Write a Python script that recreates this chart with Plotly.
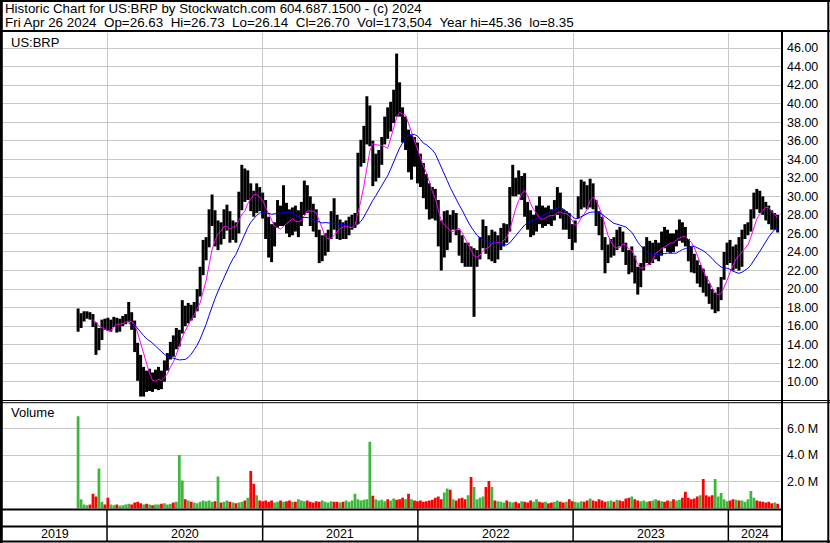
import pandas as pd
import plotly.graph_objects as go

# ---------------- data (weekly) ----------------
dates = pd.date_range("2019-10-25", "2024-04-26", freq="W-FRI")

high = [17.9,17.4,17.6,17.6,17.5,17.3,16.4,15.8,16.7,16.8,
        16.9,16.7,17.0,16.9,16.8,17.1,17.3,18.6,17.5,16.6,
        14.2,12.9,11.6,11.2,11.4,11.0,11.3,11.6,11.2,12.3,
        13.1,14.3,15.0,15.8,15.6,18.8,18.2,18.5,18.3,18.6,
        20.0,22.4,25.3,25.6,28.6,30.2,28.5,27.4,27.2,28.6,
        29.1,28.4,27.4,27.2,30.5,33.4,33.0,32.8,31.4,30.6,
        31.4,31.0,30.4,29.6,27.8,27.0,27.2,29.6,29.0,31.2,
        29.3,28.6,28.8,29.0,28.5,29.4,31.7,31.2,30.0,29.2,
        28.6,26.4,25.8,26.0,26.4,28.4,29.8,28.0,27.5,27.2,27.4,
        27.8,28.0,28.2,34.7,36.1,37.6,40.8,39.8,36.0,34.6,
        35.0,36.4,38.6,39.6,40.2,41.5,45.4,42.3,39.6,38.6,
        37.2,36.6,36.4,35.8,34.6,33.6,32.4,31.4,31.0,30.8,
        29.6,27.4,28.4,28.5,28.0,28.5,28.2,26.4,25.8,25.0,
        25.0,24.6,24.4,24.2,25.6,27.5,26.8,25.8,26.4,26.2,
        25.8,26.6,27.1,27.0,31.0,33.4,32.0,32.8,32.2,32.5,
        29.4,28.5,28.0,29.0,30.0,29.0,28.8,29.0,
        28.6,29.6,31.0,30.4,28.6,28.4,28.2,27.0,27.4,30.0,31.8,31.6,31.2,
        31.9,31.4,29.6,28.4,27.8,25.6,24.8,25.4,25.6,26.4,
        26.7,26.2,25.0,24.2,24.6,23.6,22.4,22.8,24.6,25.6,
        25.2,25.0,25.3,25.0,26.2,26.7,26.4,26.0,26.0,26.4,
        27.5,27.2,26.7,25.4,24.6,23.8,23.1,22.6,22.2,21.4,
        20.6,20.0,19.6,20.2,21.3,24.0,25.0,25.3,24.6,24.8,
        25.6,26.4,27.0,27.2,28.6,30.4,30.8,30.6,30.0,29.4,
        29.0,28.5,28.2,28.0]

low = [15.4,15.8,16.5,16.8,16.7,15.9,12.9,13.4,14.5,15.6,
       15.5,15.4,15.9,15.3,15.4,16.0,16.2,16.4,15.6,13.2,
       10.1,8.4,8.4,8.9,9.0,8.9,9.2,9.1,9.2,10.0,
       11.2,12.4,12.7,13.5,13.8,15.2,16.0,16.3,16.6,16.9,
       17.6,19.2,21.5,23.1,24.5,26.8,24.6,24.2,24.8,25.4,
       26.3,25.0,25.3,25.0,26.0,28.5,29.4,29.6,28.4,27.8,
       28.2,28.4,27.6,25.4,23.4,22.9,24.6,26.6,26.8,26.8,
       26.0,25.6,25.8,26.2,25.6,26.8,28.0,28.2,26.8,26.2,
       25.6,22.8,23.0,23.6,24.0,25.4,26.4,25.4,25.3,25.4,25.4,
       25.8,26.4,26.6,27.0,33.2,33.6,35.6,35.4,31.1,31.6,
       32.0,33.4,35.6,36.2,37.0,37.9,38.6,38.6,35.8,35.0,
       32.6,31.8,33.2,31.4,31.0,29.8,28.6,27.5,27.6,27.4,
       24.6,22.0,23.4,24.2,25.0,26.4,25.8,23.6,22.8,22.4,
       22.4,22.4,17.0,22.4,23.2,24.4,23.8,23.2,23.0,22.8,
       23.2,24.2,24.6,25.0,26.2,30.0,30.0,30.2,29.6,27.8,
       26.4,25.6,25.8,26.2,27.0,26.6,26.8,27.0,
       26.8,27.4,28.0,27.6,26.4,26.4,25.4,24.2,25.0,27.6,28.6,28.8,28.6,
       28.8,28.6,26.8,25.8,24.2,21.7,22.8,23.4,23.6,24.2,
       24.6,24.0,22.6,21.6,21.8,20.6,19.4,20.2,22.0,22.8,
       22.6,22.8,23.2,23.0,23.6,24.4,24.0,23.9,24.0,24.6,
       25.2,25.0,24.6,23.0,21.8,21.7,20.6,20.2,19.6,19.2,
       18.4,17.8,17.4,17.6,18.8,21.0,22.6,22.8,22.0,22.2,
       22.0,22.4,25.4,25.8,26.2,27.6,28.6,28.2,28.0,27.4,
       27.0,26.4,26.4,26.1]

close = [15.6,16.8,17.1,17.3,17.2,16.2,14.0,14.2,16.3,16.2,
         16.0,16.4,16.5,15.8,16.4,16.6,16.9,17.0,16.2,13.9,
         11.0,9.6,10.6,9.8,10.4,9.6,10.3,10.8,10.0,11.8,
         12.6,13.9,13.8,15.4,15.6,17.6,16.6,17.8,17.4,18.2,
         19.5,21.6,24.0,24.6,27.8,28.0,25.2,26.2,25.6,27.6,
         28.0,26.0,26.8,26.2,29.8,31.4,30.2,31.0,29.6,29.0,
         30.0,29.4,28.6,26.2,25.6,24.2,26.6,28.6,27.6,28.0,
         27.2,26.4,27.8,27.0,27.2,28.8,30.6,29.2,27.6,27.0,
         26.2,23.8,24.4,25.2,25.8,27.8,27.6,26.2,26.6,26.0,26.6,
         27.0,27.4,27.6,34.0,34.6,36.2,38.4,38.6,32.4,33.2,
         34.4,35.8,37.8,37.4,39.0,40.6,40.2,39.4,36.6,36.8,
         33.6,35.4,34.4,33.0,32.0,31.2,29.4,29.0,28.6,28.2,
         25.4,23.6,26.8,27.0,26.8,27.6,26.6,24.6,23.8,23.2,
         23.8,23.0,23.2,23.6,25.0,26.4,24.6,24.2,25.8,24.0,
         25.2,25.6,26.6,26.4,30.6,31.6,31.2,30.8,31.0,28.6,
         27.4,26.4,27.2,28.4,28.0,27.6,28.2,27.8,
         27.4,28.8,29.6,28.2,27.0,27.8,26.0,25.4,26.8,29.4,30.6,30.2,29.4,
         30.8,29.0,27.6,26.4,25.0,22.6,24.2,24.8,24.4,25.6,
         25.4,24.8,23.4,22.4,23.6,21.4,20.2,22.4,23.8,24.4,
         23.6,24.2,24.6,23.8,25.8,25.2,25.0,25.4,24.6,25.8,
         27.0,26.0,25.2,23.6,22.6,22.4,21.4,21.6,20.2,19.8,
         19.4,18.4,18.8,19.6,21.0,23.6,24.2,23.6,23.0,24.0,
         23.2,25.8,26.2,26.4,28.0,29.6,29.4,29.0,28.6,28.4,
         27.6,27.2,27.6,26.7]

# volume in millions of shares
volume_m = [6.9,0.7,0.3,0.25,0.3,1.1,0.9,3.0,0.5,0.3,
            0.8,0.3,0.25,0.3,0.2,0.25,0.3,0.35,0.3,0.45,
            0.5,0.4,0.3,0.35,0.3,0.25,0.3,0.3,0.35,0.4,
            0.3,0.35,0.45,0.5,4.0,2.1,0.7,0.6,0.5,0.45,
            0.4,0.5,0.6,0.55,0.6,0.5,0.55,2.4,0.45,0.5,
            0.6,0.5,0.45,0.4,0.45,0.5,0.6,0.8,2.8,1.85,
            1.0,0.6,0.55,0.6,0.5,0.6,0.45,0.5,0.6,0.5,
            0.55,0.6,0.5,0.5,0.7,0.6,0.55,0.6,0.5,0.45,
            0.55,0.5,0.6,0.5,0.45,0.55,0.5,0.5,0.45,0.5,
            0.6,0.5,0.6,1.1,0.7,0.6,0.65,0.7,5.0,0.95,
            0.7,0.6,0.65,0.55,0.7,0.6,0.75,0.65,0.7,0.8,
            0.7,1.1,0.7,0.6,0.55,0.6,0.5,0.55,0.6,0.65,
            0.8,0.9,0.7,1.2,1.5,1.4,0.7,0.6,0.75,0.8,
            0.7,1.0,2.35,1.6,0.7,0.8,0.9,1.6,2.05,1.6,
            0.6,0.55,0.5,0.45,0.6,0.5,0.45,0.5,0.4,0.55,
            0.5,0.45,0.6,0.5,0.7,0.5,0.45,0.5,0.4,0.45,
            0.5,0.6,0.5,0.45,0.5,0.7,0.55,0.5,0.45,0.55,
            0.5,0.6,0.75,0.6,0.55,0.7,0.6,0.5,0.55,0.6,
            0.5,0.65,0.6,0.55,0.75,0.8,0.9,0.7,0.6,0.55,
            0.6,0.5,0.55,0.6,0.7,0.6,0.55,0.5,0.6,0.55,
            0.7,0.6,0.65,0.8,1.25,0.8,0.7,0.75,0.9,1.0,
            2.2,1.0,0.9,1.0,2.2,0.9,1.15,0.7,0.55,0.6,
            0.7,0.65,0.6,0.6,0.5,0.7,1.3,0.8,0.6,0.55,
            0.5,0.45,0.5,0.4,0.45,0.35]

years = ["2019", "2020", "2021", "2022", "2023", "2024"]
vol_tick_values = [2e6, 4e6, 6e6]
vol_tick_labels = ["2.0 M", "4.0 M", "6.0 M"]

title_line1 = "Historic Chart for US:BRP by Stockwatch.com 604.687.1500 - (c) 2024"
title_line2 = ("Fri Apr 26 2024\u00a0\u00a0Op=26.63\u00a0\u00a0Hi=26.73\u00a0\u00a0Lo=26.14"
               "\u00a0\u00a0Cl=26.70\u00a0\u00a0Vol=173,504\u00a0\u00a0Year hi=45.36\u00a0\u00a0lo=8.35")

# ---------------- derived series ----------------
df = pd.DataFrame({"date": dates, "high": high, "low": low, "close": close,
                   "vol": [v * 1e6 for v in volume_m]})
df["ma_fast"] = df["close"].rolling(6).mean()
df["ma_slow"] = df["close"].rolling(18).mean()
df["up"] = df["close"].diff().fillna(1) >= 0

# ---------------- layout helpers ----------------
W, H = 830, 543
def px(x):
    return x / W
def py(y):
    return 1 - y / H

X_RANGE = ["2019-05-01 10:00", "2024-05-03 20:00"]
FONT = "Liberation Sans, Arial, sans-serif"
GRID = "#C8C8C8"
DAY_MS = 24 * 3600 * 1000
PRICE_BAR_W = 7 * DAY_MS
VOL_BAR_W = 6.5 * DAY_MS

fig = go.Figure()

fig.add_trace(go.Bar(x=df["date"], y=df["high"] - df["low"], base=df["low"],
                     width=PRICE_BAR_W, marker=dict(color="black", line=dict(width=0)),
                     xaxis="x", yaxis="y", showlegend=False))
fig.add_trace(go.Scatter(x=df["date"], y=df["ma_fast"], mode="lines",
                         line=dict(color="#FF00FF", width=1), xaxis="x", yaxis="y",
                         showlegend=False))
fig.add_trace(go.Scatter(x=df["date"], y=df["ma_slow"], mode="lines",
                         line=dict(color="#0000FF", width=1), xaxis="x", yaxis="y",
                         showlegend=False))
fig.add_trace(go.Bar(x=df["date"], y=df["vol"], width=VOL_BAR_W,
                     marker=dict(color=["#3DB83D" if u else "#FF0000" for u in df["up"]],
                                 line=dict(width=0)),
                     xaxis="x2", yaxis="y2", showlegend=False))

xcommon = dict(type="date", range=X_RANGE, domain=[px(3), px(781)],
               showgrid=True, gridcolor=GRID, gridwidth=1,
               tick0="2020-01-01", dtick="M12", showticklabels=False,
               ticks="", zeroline=False, showline=False, automargin=False)

fig.update_layout(
    width=W, height=H,
    margin=dict(l=0, r=0, t=0, b=0),
    paper_bgcolor="white", plot_bgcolor="white",
    barmode="overlay",
    font=dict(family=FONT, size=13, color="black"),
    xaxis=dict(**xcommon, anchor="y"),
    xaxis2=dict(**xcommon, anchor="y2", matches="x"),
    yaxis=dict(domain=[py(400), py(33)], range=[8.03, 47.62], side="right",
               anchor="x", tick0=0, dtick=2, tickformat=".2f",
               showgrid=True, gridcolor=GRID, gridwidth=1, zeroline=False,
               ticks="", ticklabelstandoff=5, automargin=False,
               tickfont=dict(size=12.5, family=FONT, color="black")),
    yaxis2=dict(domain=[py(508.5), py(403)], range=[0, 7.89e6], side="right",
                anchor="x2", tickvals=vol_tick_values, ticktext=vol_tick_labels,
                showgrid=True, gridcolor=GRID, gridwidth=1, zeroline=False,
                ticks="", ticklabelstandoff=5, automargin=False,
                tickfont=dict(size=12.5, family=FONT, color="black")),
)

# texts
ann = [
    dict(text=title_line1, x=px(3), y=py(8.7), size=13.3),
    dict(text=title_line2, x=px(3), y=py(22.8), size=13.4),
    dict(text="US:BRP", x=px(9), y=py(42), size=13),
    dict(text="Volume", x=px(9), y=py(413), size=13),
]
for a in ann:
    fig.add_annotation(xref="paper", yref="paper", xanchor="left", yanchor="middle",
                       showarrow=False, text=a["text"], x=a["x"], y=a["y"],
                       font=dict(size=a["size"], family=FONT, color="black"))

r0, r1 = pd.Timestamp(X_RANGE[0]), pd.Timestamp("2024-05-03 20:00")
for yr in years:
    s = max(pd.Timestamp(f"{yr}-01-01"), r0)
    e = min(pd.Timestamp(f"{int(yr) + 1}-01-01"), r1)
    mid = s + (e - s) / 2
    fig.add_annotation(xref="x", yref="paper", x=mid, y=py(534), text=yr,
                       showarrow=False, xanchor="center", yanchor="middle",
                       font=dict(size=12.5, family=FONT, color="black"))
    if yr != years[0]:
        fig.add_shape(type="line", xref="x", yref="paper",
                      x0=f"{yr}-01-01", x1=f"{yr}-01-01", y0=py(510), y1=py(541),
                      line=dict(color="black", width=1.5))

# frame lines
def hline(y, x0, x1, w):
    fig.add_shape(type="line", xref="paper", yref="paper", x0=px(x0), x1=px(x1),
                  y0=py(y), y1=py(y), line=dict(color="black", width=w))
def vline(x, y0, y1, w):
    fig.add_shape(type="line", xref="paper", yref="paper", x0=px(x), x1=px(x),
                  y0=py(y0), y1=py(y1), line=dict(color="black", width=w))

hline(1, 0, 830, 2)
hline(31, 0, 830, 2)
hline(400.5, 0, 830, 1)
hline(402.7, 0, 830, 1)
hline(509.5, 0, 782, 2)
hline(526.5, 0, 782, 2)
hline(541.5, 0, 830, 2)
vline(1.3, 0, 543, 3)
vline(828.3, 0, 543, 2)
vline(782, 31, 542, 2)

fig.write_html("out.html",
               config={"displayModeBar": False},
               post_script="document.body.style.margin='0';document.body.style.overflow='hidden';")
